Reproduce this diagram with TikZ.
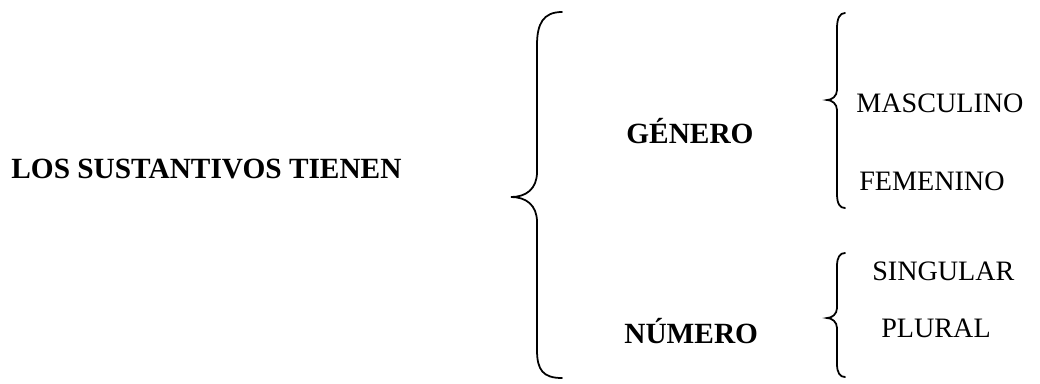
\documentclass[tikz,border=0pt]{standalone}
\usepackage{fontspec}
\setmainfont{Liberation Serif}
\begin{document}
\begin{tikzpicture}[x=0.02cm, y=-0.02cm,
    every node/.style={inner sep=0pt, anchor=base west, font=\fontsize{16}{19}\selectfont},
    title/.style={font=\fontsize{16.7}{20}\selectfont\bfseries},
    curly/.style={line width=1pt, line cap=round}]
  \useasboundingbox (0,0) rectangle (1040,383);

  \node[title] (tienen) at (11,178) {LOS SUSTANTIVOS TIENEN};
  \node[title] (genero) at (626,143) {GÉNERO};
  \node[title] (numero) at (624,343) {NÚMERO};

  \node (masc) at (856,112) {MASCULINO};
  \node (fem) at (859,190) {FEMENINO};
  \node (sing) at (872,280) {SINGULAR};
  \node (plur) at (881,337) {PLURAL};

  % big brace
  \draw[curly] (562,12) .. controls (543,12) and (537,24) .. (537,45)
    -- (537,172) .. controls (537,189) and (526,197) .. (511,197)
    .. controls (526,197) and (537,205) .. (537,222)
    -- (537,350) .. controls (537,370) and (543,378) .. (562,378);

  % upper small brace
  \draw[curly] (845,13) .. controls (840,13) and (837,18) .. (837,28)
    -- (837,90) .. controls (837,96) and (832,100) .. (827,100)
    .. controls (832,100) and (837,104) .. (837,110)
    -- (837,194) .. controls (837,204) and (840,208) .. (845,208);

  % lower small brace
  \draw[curly] (845,253) .. controls (840,253) and (837,257) .. (837,266)
    -- (837,308) .. controls (837,314) and (832,318) .. (827,318)
    .. controls (832,318) and (837,322) .. (837,328)
    -- (837,364) .. controls (837,373) and (840,377) .. (845,377);
\end{tikzpicture}
\end{document}
